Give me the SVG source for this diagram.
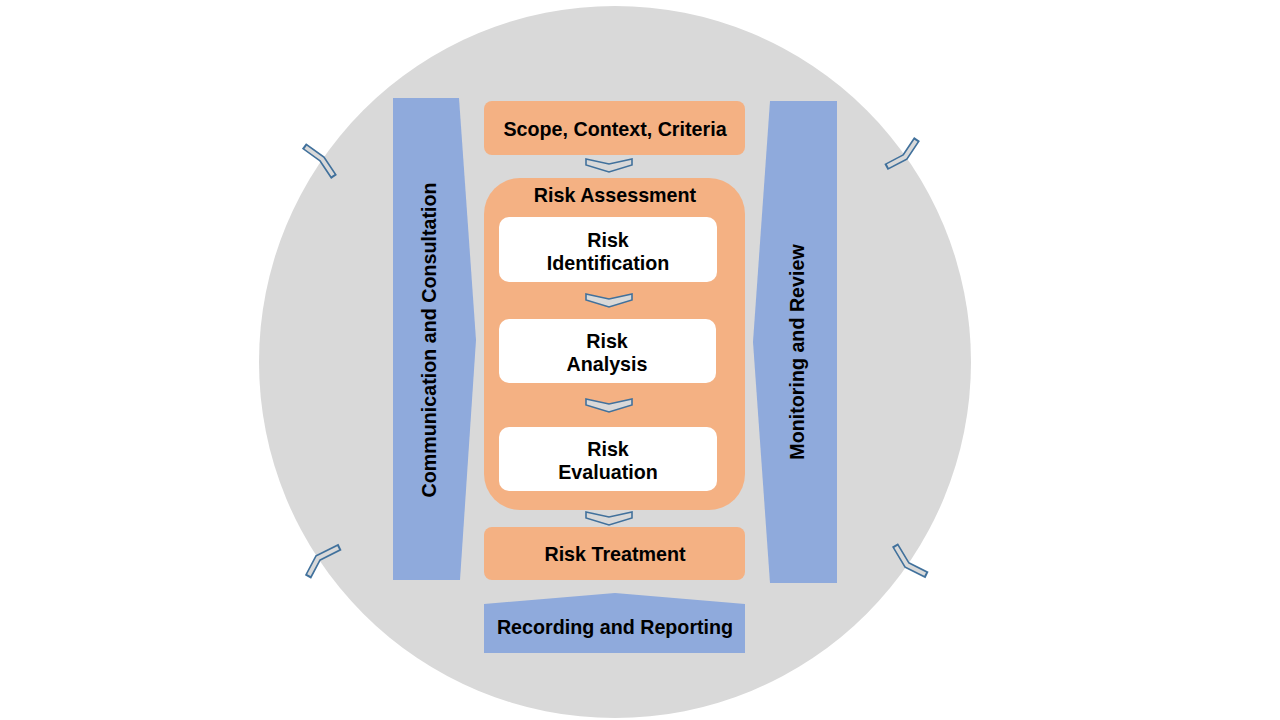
<svg xmlns="http://www.w3.org/2000/svg" width="1280" height="720" viewBox="0 0 1280 720">
<style>
.t{font-family:"Liberation Sans",Arial,sans-serif;font-weight:bold;font-size:19.7px;fill:#000;text-anchor:middle}
.or{fill:#F4B183}
.bl{fill:#8FAADC}
.wh{fill:#FFFFFF}
.chev{fill:#D9D9D9;stroke:#41719C;stroke-width:1.6;stroke-linejoin:miter}
.mo{fill:none;stroke:#41719C;stroke-width:7}
.mi{fill:none;stroke:#D9D9D9;stroke-width:3.8}
</style>
<defs>
<polygon id="chv" points="-23,-6 0,-1 23,-6 23,0 0,7 -23,0"/>
</defs>
<rect width="1280" height="720" fill="#FFFFFF"/>
<circle cx="615" cy="362" r="356" fill="#D9D9D9"/>
<g id="marks">
<polyline class="mo" points="304,146 322,159 334,177"/>
<polyline class="mi" points="305.6,147.2 322,159 332.9,175.3"/>
<polyline class="mo" points="917,139 905,157 886,167"/>
<polyline class="mi" points="915.9,140.7 905,157 887.8,166"/>
<polyline class="mo" points="340,547 318,558 308,577"/>
<polyline class="mi" points="338.2,547.9 318,558 308.9,575.2"/>
<polyline class="mo" points="895,545 907,565 927,575"/>
<polyline class="mi" points="896,546.7 907,565 925.2,574.1"/>
</g>
<g id="comm">
<polygon class="bl" points="393,98 459,98 476,340 460,580 393,580"/>
<text class="t" transform="translate(436,340) rotate(-90)">Communication and Consultation</text>
</g>
<g id="monitor">
<polygon class="bl" points="770,101 837,101 837,583 770,583 753,342"/>
<text class="t" transform="translate(804,352) rotate(-90)">Monitoring and Review</text>
</g>
<g id="scope">
<rect class="or" x="484" y="101" width="261" height="54" rx="8"/>
<text class="t" x="615" y="136">Scope, Context, Criteria</text>
</g>
<g id="assessment">
<rect class="or" x="484" y="178" width="261" height="332" rx="36"/>
<text class="t" x="615" y="202">Risk Assessment</text>
</g>
<g id="identification">
<rect class="wh" x="499" y="217" width="218" height="65" rx="10"/>
<text class="t" x="608" y="247">Risk</text>
<text class="t" x="608" y="270">Identification</text>
</g>
<g id="analysis">
<rect class="wh" x="499" y="319" width="217" height="64" rx="10"/>
<text class="t" x="607" y="348">Risk</text>
<text class="t" x="607" y="371">Analysis</text>
</g>
<g id="evaluation">
<rect class="wh" x="499" y="427" width="218" height="64" rx="10"/>
<text class="t" x="608" y="456">Risk</text>
<text class="t" x="608" y="479">Evaluation</text>
</g>
<g id="treatment">
<rect class="or" x="484" y="527" width="261" height="53" rx="8"/>
<text class="t" x="615" y="561">Risk Treatment</text>
</g>
<g id="recording">
<polygon class="bl" points="484,604 615,593 745,604 745,653 484,653"/>
<text class="t" x="615" y="634">Recording and Reporting</text>
</g>
<g id="connectors">
<use href="#chv" class="chev" transform="translate(609,165)"/>
<use href="#chv" class="chev" transform="translate(609,300)"/>
<use href="#chv" class="chev" transform="translate(609,405)"/>
<use href="#chv" class="chev" transform="translate(609,518)"/>
</g>
</svg>
